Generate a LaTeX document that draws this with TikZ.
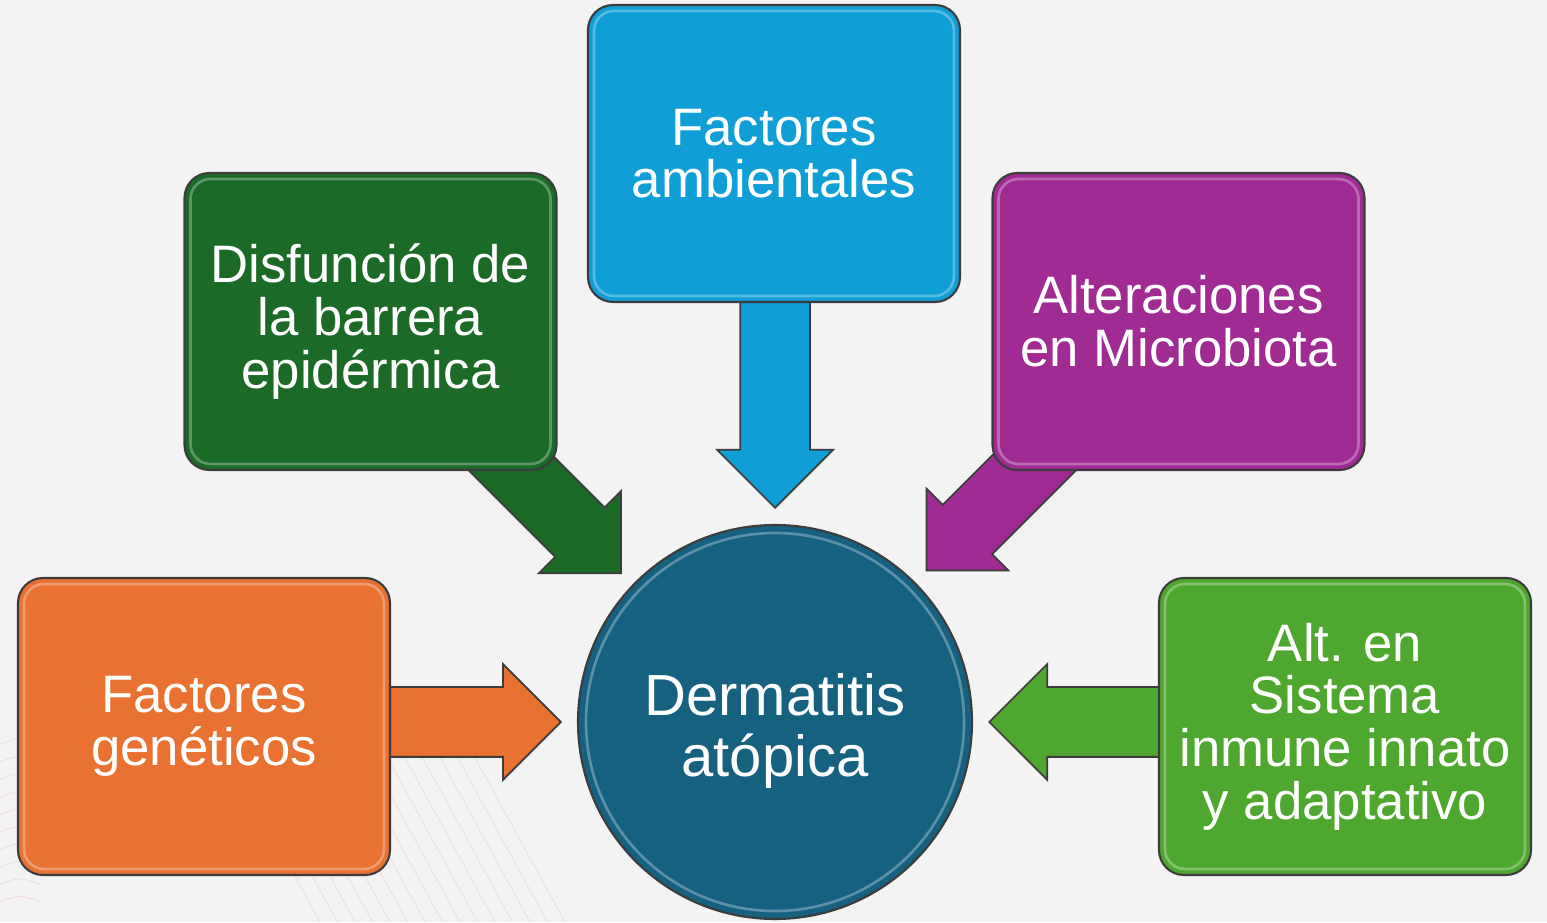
\documentclass[tikz,border=0pt]{standalone}
\usepackage{fontspec}
\setmainfont{Liberation Sans}
\usetikzlibrary{shapes.arrows,calc}
\definecolor{bgcol}{HTML}{F3F3F3}
\definecolor{orangecol}{HTML}{E97132}
\definecolor{darkgreencol}{HTML}{1B6A26}
\definecolor{bluecol}{HTML}{0F9ED5}
\definecolor{purplecol}{HTML}{A02B93}
\definecolor{greencol}{HTML}{4EA72E}
\definecolor{circlecol}{HTML}{166080}
\definecolor{edgecol}{HTML}{3C3C3C}
\definecolor{linecol}{HTML}{F2C6D6}

\begin{document}
\begin{tikzpicture}[factor/.style={draw=edgecol,line width=1.2pt,rounded corners=0.5cm,
      minimum width=7.44cm,minimum height=5.94cm,align=center,text=white,
      font=\fontsize{30}{30}\selectfont,
      path picture={\draw[white,opacity=0.3,line width=1.5pt,rounded corners=0.4cm]
         ([shift={(0.12,0.12)}]path picture bounding box.south west) rectangle
         ([shift={(-0.12,-0.12)}]path picture bounding box.north east);}},
   blockarrow/.style={single arrow,draw=edgecol,line width=1pt,inner sep=0pt,
      text height=0.68cm,text depth=0.68cm,single arrow head extend=0.46cm,
      minimum height=4.04cm,anchor=tip}]
\useasboundingbox[fill=bgcol] (0,0) rectangle (30.94,18.44);
\foreach \x in {6.4,6.75,...,11.6}
   \draw[linecol,opacity=0.6,line width=0.4pt] (\x,0) -- (\x-2.3,4.2);
\foreach \y in {0.4,0.75,...,3.6}
   \draw[linecol,opacity=0.6,line width=0.4pt] (0,\y) .. controls (0.4,\y+0.15) .. (0.8,\y);
\node[circle,draw=edgecol,line width=1.2pt,fill=circlecol,minimum size=7.88cm,
   path picture={\draw[white,opacity=0.3,line width=1.5pt]
      (path picture bounding box.center) circle (3.78cm);}] (dermatitis) at (15.5,4.0) {};
\node[align=center,text=white,font=\fontsize{33}{35}\selectfont] (dermatitislabel)
   at ([yshift=-0.18cm]dermatitis.center) {Dermatitis\\at\'opica};
\coordinate (geneticostip) at ($(dermatitis.center)+(180:4.26)$);
\coordinate (barreratip) at ($(dermatitis.center)+(136:4.26)$);
\coordinate (ambientalestip) at ($(dermatitis.center)+(90:4.26)$);
\coordinate (microbiotatip) at ($(dermatitis.center)+(45:4.26)$);
\coordinate (inmunetip) at ($(dermatitis.center)+(0:4.26)$);
\node[blockarrow,fill=orangecol,rotate=0] (geneticosarrow) at (geneticostip) {};
\node[blockarrow,fill=darkgreencol,rotate=-45] (barreraarrow) at (barreratip) {};
\node[blockarrow,fill=bluecol,rotate=-90,minimum height=4.56cm] (ambientalesarrow) at (ambientalestip) {};
\node[blockarrow,fill=purplecol,rotate=-135] (microbiotaarrow) at (microbiotatip) {};
\node[blockarrow,fill=greencol,rotate=180] (inmunearrow) at (inmunetip) {};
\node[factor,fill=orangecol] (geneticos) at (4.08,3.91) {Factores\\gen\'eticos};
\node[factor,fill=darkgreencol] (barrera) at (7.41,12.01) {Disfunci\'on de\\la barrera\\epid\'ermica};
\node[factor,fill=bluecol] (ambientales) at (15.48,15.37) {Factores\\ambientales};
\node[factor,fill=purplecol] (microbiota) at (23.57,12.01) {Alteraciones\\en Microbiota};
\node[factor,fill=greencol] (inmune) at (26.9,3.91) {Alt. en\\Sistema\\inmune innato\\y adaptativo};
\end{tikzpicture}
\end{document}
